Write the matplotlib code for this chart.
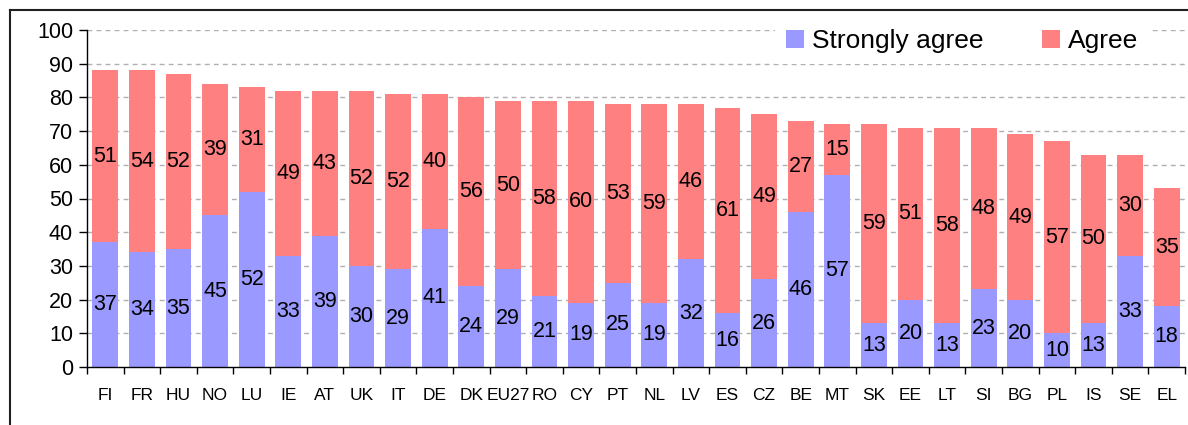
import matplotlib
matplotlib.use("Agg")
import matplotlib.pyplot as plt
import numpy as np

plt.rcParams['font.family'] = ['Liberation Sans', 'DejaVu Sans']

countries = ["FI", "FR", "HU", "NO", "LU", "IE", "AT", "UK", "IT", "DE", "DK", "EU27", "RO", "CY", "PT",
             "NL", "LV", "ES", "CZ", "BE", "MT", "SK", "EE", "LT", "SI", "BG", "PL", "IS", "SE", "EL"]
strongly_agree = [37, 34, 35, 45, 52, 33, 39, 30, 29, 41, 24, 29, 21, 19, 25,
                  19, 32, 16, 26, 46, 57, 13, 20, 13, 23, 20, 10, 13, 33, 18]
agree = [51, 54, 52, 39, 31, 49, 43, 52, 52, 40, 56, 50, 58, 60, 53,
         59, 46, 61, 49, 27, 15, 59, 51, 58, 48, 49, 57, 50, 30, 35]
yticks = list(range(0, 101, 10))

BLUE = "#9999FF"
RED = "#FF8080"

fig = plt.figure(figsize=(11.88, 4.25), dpi=100)
ax = fig.add_axes([87/1188, 1 - 367/425, (1185 - 87)/1188, (367 - 30)/425])

x = np.arange(len(countries))
sa = np.array(strongly_agree)
ag = np.array(agree)
b1 = ax.bar(x, sa, width=0.71, color=BLUE, label="Strongly agree", zorder=2)
b2 = ax.bar(x, ag, bottom=sa, width=0.71, color=RED, label="Agree", zorder=2)

for xi, s, a in zip(x, sa, ag):
    ax.text(xi, s / 2, str(s), ha='center', va='center', fontsize=15.5, zorder=3)
    ax.text(xi, s + a / 2, str(a), ha='center', va='center', fontsize=15.5, zorder=3)

ax.set_xlim(-0.5, len(countries) - 0.5)
ax.set_ylim(0, 100)
ax.set_yticks(yticks)
ax.set_yticklabels([str(v) for v in yticks], fontsize=15.5)
ax.set_xticks(x)
ax.set_xticklabels(countries, fontsize=12.5)
ax.set_xticks(np.arange(-0.5, len(countries), 1), minor=True)
ax.tick_params(axis='x', which='major', length=0, pad=15)
ax.tick_params(axis='x', which='minor', length=5, width=1, direction='out')
ax.tick_params(axis='y', length=6, width=1, direction='out', pad=4)

for yv in yticks[1:]:
    ax.axhline(yv, color='#b0b0b0', linestyle=(0, (3.5, 3)), linewidth=1, zorder=1)

ax.spines['top'].set_visible(False)
ax.spines['right'].set_visible(False)
ax.spines['left'].set_linewidth(1)
ax.spines['bottom'].set_linewidth(1)

leg = ax.legend(handles=[b1, b2], ncol=2, loc='center',
                bbox_to_anchor=(962/1188, 1 - 41/425), bbox_transform=fig.transFigure,
                fontsize=19, frameon=True, fancybox=False, edgecolor='none', facecolor='white',
                framealpha=1, handlelength=0.7, handleheight=0.7, handletextpad=0.3,
                columnspacing=2.2, borderpad=0.4, borderaxespad=0)
leg.set_zorder(5)

# outer frame
fig.add_artist(plt.Line2D([10/1188, 10/1188], [0, 1 - 10/425], transform=fig.transFigure,
                          color='#202020', linewidth=1.5))
fig.add_artist(plt.Line2D([10/1188, 1], [1 - 10/425, 1 - 10/425], transform=fig.transFigure,
                          color='#202020', linewidth=1.5))

fig.savefig("out.png", dpi=100)
